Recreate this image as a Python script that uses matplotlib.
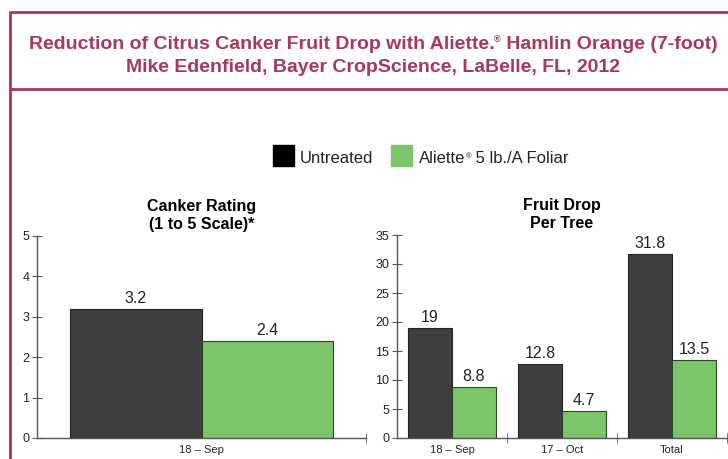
import matplotlib
matplotlib.use("Agg")
import matplotlib.pyplot as plt
from matplotlib.patches import Rectangle
from matplotlib.lines import Line2D
import numpy as np

plt.rcParams['font.family'] = ['Liberation Sans', 'DejaVu Sans']

series_names = ["Untreated", "Aliette\u00ae 5 lb./A Foliar"]
canker_categories = ["18 \u2013 Sep"]
canker_untreated = [3.2]
canker_aliette = [2.4]
drop_categories = ["18 \u2013 Sep", "17 \u2013 Oct", "Total"]
drop_untreated = [19, 12.8, 31.8]
drop_aliette = [8.8, 4.7, 13.5]
drop_labels_untreated = ["19", "12.8", "31.8"]
drop_labels_aliette = ["8.8", "4.7", "13.5"]

DARK = "#3e3e40"
GREEN = "#7cc46a"
MAROON = "#a8365e"
W, H = 728, 459

fig = plt.figure(figsize=(7.28, 4.59), dpi=100)
renderer = fig.canvas.get_renderer()


def run_width(s, size, weight):
    t = fig.text(0, 0, s, fontsize=size, fontweight=weight)
    w = t.get_window_extent(renderer).width
    t.remove()
    return w


def draw_runs(x_px, base_px, runs, color, center=False):
    """runs: list of (text, size, weight, raise_px)"""
    widths = [run_width(s, sz, wt) for s, sz, wt, _ in runs]
    x = x_px - (sum(widths) / 2 if center else 0)
    for (s, sz, wt, dy), w in zip(runs, widths):
        fig.text(x / W, 1 - (base_px - dy) / H, s, fontsize=sz, fontweight=wt, color=color,
                 ha='left', va='baseline')
        x += w


# Frame
def fl(x0, y0, x1, y1):
    fig.add_artist(Line2D([x0 / W, x1 / W], [1 - y0 / H, 1 - y1 / H], color=MAROON,
                          lw=2.0, transform=fig.transFigure, solid_capstyle='butt'))
fl(10, 12, 728, 12)
fl(10, 89, 728, 89)
fl(10, 11, 10, 459)

TS = 14
draw_runs(373, 49, [("Reduction of Citrus Canker Fruit Drop with Aliette.", TS, 'bold', 0),
                    ("\u00ae", 6.5, 'bold', 7),
                    (" Hamlin Orange (7-foot)", TS, 'bold', 0)], MAROON, center=True)
draw_runs(373, 72, [("Mike Edenfield, Bayer CropScience, LaBelle, FL, 2012", TS, 'bold', 0)],
          MAROON, center=True)


def style(ax, ymax, step):
    for s in ['top', 'right']:
        ax.spines[s].set_visible(False)
    for s in ['left', 'bottom']:
        ax.spines[s].set_color('#555555')
        ax.spines[s].set_linewidth(1.0)
    ax.set_ylim(0, ymax)
    ax.set_yticks(np.arange(0, ymax + 0.01, step))
    ax.tick_params(axis='y', direction='inout', length=7, labelsize=9, colors='#555555',
                   labelcolor='#222222', pad=2)
    ax.tick_params(axis='x', which='major', length=0, labelsize=8, labelcolor='#222222', pad=5)
    ax.tick_params(axis='x', which='minor', direction='inout', length=7, colors='#555555')


def bars(ax, cats, u, a, lu, la, fs):
    n = len(cats)
    x = np.arange(n)
    ax.bar(x + 0.1, u, width=0.4, align='edge', color=DARK, edgecolor='#222222', lw=0.8)
    ax.bar(x + 0.5, a, width=0.4, align='edge', color=GREEN, edgecolor='#2a4a22', lw=0.8)
    ymax = ax.get_ylim()[1]
    for i in range(n):
        ax.text(x[i] + 0.3, u[i] + ymax * 0.015, lu[i], ha='center', va='bottom', fontsize=fs, color='#222222')
        ax.text(x[i] + 0.7, a[i] + ymax * 0.015, la[i], ha='center', va='bottom', fontsize=fs, color='#222222')
    ax.set_xlim(0, n)
    ax.set_xticks(x + 0.5)
    ax.set_xticklabels(cats)
    ax.set_xticks(np.arange(1, n + 1), minor=True)


ax1 = fig.add_axes([37 / W, 1 - 438 / H, 329 / W, 202 / H])
style(ax1, 5, 1)
bars(ax1, canker_categories, canker_untreated, canker_aliette,
     ["3.2"], ["2.4"], 11.5)
ax1.set_title("Canker Rating\n(1 to 5 Scale)*", fontsize=11.5, fontweight='bold', pad=5,
              linespacing=1.25)

ax2 = fig.add_axes([397 / W, 1 - 438 / H, 330 / W, 203 / H])
style(ax2, 35, 5)
bars(ax2, drop_categories, drop_untreated, drop_aliette,
     drop_labels_untreated, drop_labels_aliette, 11.5)
ax2.set_title("Fruit Drop\nPer Tree", fontsize=11.5, fontweight='bold', pad=5, linespacing=1.25)

# Legend (manual, to keep the small raised registered sign)
for (x0, col) in [(273, 'black'), (391, GREEN)]:
    fig.add_artist(Rectangle((x0 / W, 1 - 166 / H), 21 / W, 21 / H, facecolor=col,
                             edgecolor=col, transform=fig.transFigure))
draw_runs(300, 163, [(series_names[0], 12, 'normal', 0)], '#222222')
name2_a, name2_b = series_names[1].split("\u00ae")
draw_runs(419, 163, [(name2_a, 12, 'normal', 0), ("\u00ae", 5.5, 'normal', 5),
                     (name2_b, 12, 'normal', 0)], '#222222')

fig.savefig("out.png", dpi=100)
